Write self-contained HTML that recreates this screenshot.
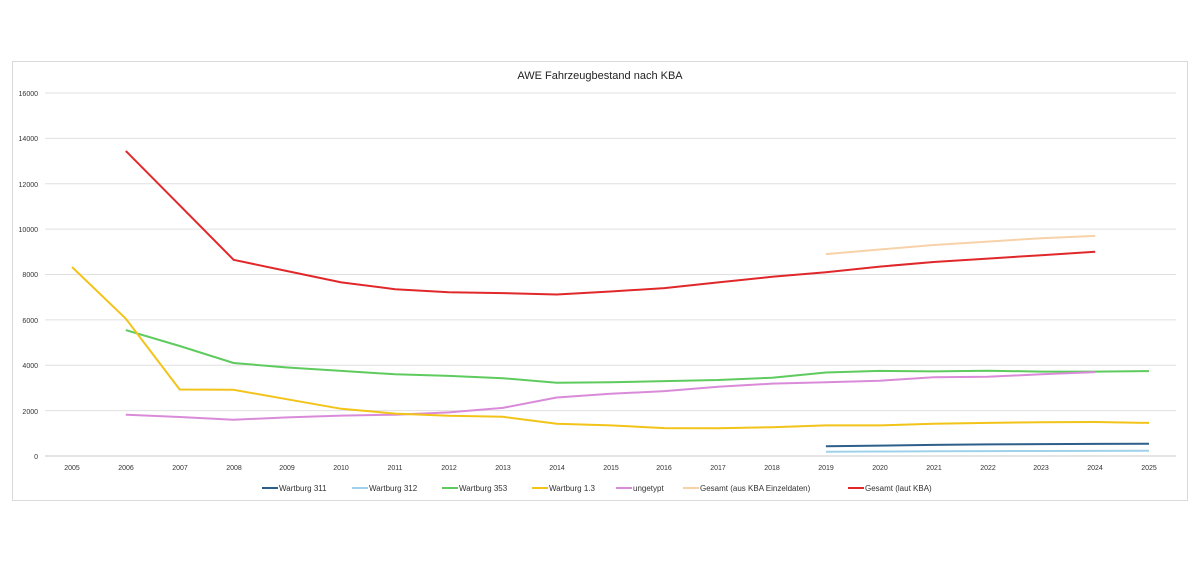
<!DOCTYPE html>
<html><head><meta charset="utf-8"><style>
body{margin:0;background:#fff;width:1200px;height:564px;overflow:hidden;font-family:"Liberation Sans",sans-serif}
</style></head><body>
<svg id="s" width="1200" height="564" xmlns="http://www.w3.org/2000/svg" font-family="Liberation Sans, sans-serif">
<rect x="12.5" y="61.5" width="1175" height="439" fill="#fff" stroke="#d9d9d9"/>
<text x="600" y="79" font-size="11" text-anchor="middle" fill="#222">AWE Fahrzeugbestand nach KBA</text>
<g id="grid" stroke="#e0e0e0" stroke-width="1"></g>
<g font-size="7" fill="#333" text-anchor="end">
<text x="38" y="96">16000</text><text x="38" y="141">14000</text><text x="38" y="187">12000</text><text x="38" y="232">10000</text><text x="38" y="277">8000</text><text x="38" y="323">6000</text><text x="38" y="368">4000</text><text x="38" y="414">2000</text><text x="38" y="459">0</text>
</g>
<g font-size="7" fill="#333" text-anchor="middle">
<text x="72" y="470">2005</text><text x="126" y="470">2006</text><text x="180" y="470">2007</text><text x="234" y="470">2008</text><text x="287" y="470">2009</text><text x="341" y="470">2010</text><text x="395" y="470">2011</text><text x="449" y="470">2012</text><text x="503" y="470">2013</text><text x="557" y="470">2014</text><text x="611" y="470">2015</text><text x="664" y="470">2016</text><text x="718" y="470">2017</text><text x="772" y="470">2018</text><text x="826" y="470">2019</text><text x="880" y="470">2020</text><text x="934" y="470">2021</text><text x="988" y="470">2022</text><text x="1041" y="470">2023</text><text x="1095" y="470">2024</text><text x="1149" y="470">2025</text>
</g>
<g id="lines" fill="none" stroke-width="2" stroke-linejoin="round"></g>
<g font-size="8" fill="#333" stroke-width="2">
<line x1="262" y1="488" x2="278" y2="488" stroke="#2e5f8a"/><text x="279" y="491">Wartburg 311</text>
<line x1="352" y1="488" x2="368" y2="488" stroke="#9fd2ea"/><text x="369" y="491">Wartburg 312</text>
<line x1="442" y1="488" x2="458" y2="488" stroke="#5ecb5e"/><text x="459" y="491">Wartburg 353</text>
<line x1="532" y1="488" x2="548" y2="488" stroke="#f2c318"/><text x="549" y="491">Wartburg 1.3</text>
<line x1="616" y1="488" x2="632" y2="488" stroke="#d98bd9"/><text x="633" y="491">ungetypt</text>
<line x1="683" y1="488" x2="699" y2="488" stroke="#f7d2a8"/><text x="700" y="491">Gesamt (aus KBA Einzeldaten)</text>
<line x1="848" y1="488" x2="864" y2="488" stroke="#e0282a"/><text x="865" y="491">Gesamt (laut KBA)</text>
</g>
</svg>
<script>
var NS="http://www.w3.org/2000/svg";
var g=document.getElementById('grid');
for(var v=0;v<=16000;v+=2000){var y=456-v*0.0226875;var l=document.createElementNS(NS,'line');l.setAttribute('x1',45);l.setAttribute('x2',1176);l.setAttribute('y1',y);l.setAttribute('y2',y);if(v==0)l.setAttribute('stroke','#c8c8c8');g.appendChild(l);}
function X(i){return 72+i*53.85}function Y(v){return 456-v*0.0226875}
var S=[
["#f7d2a8",14,[8900,9100,9300,9450,9600,9700]],
["#e0282a",1,[13450,11050,8650,8150,7650,7350,7220,7180,7120,7250,7400,7650,7900,8100,8350,8550,8700,8850,9000]],
["#5ecb5e",1,[5550,4850,4100,3900,3750,3600,3530,3430,3230,3250,3300,3350,3450,3680,3750,3730,3760,3720,3720,3740]],
["#d98bd9",1,[1820,1720,1600,1700,1780,1820,1920,2120,2580,2740,2860,3050,3190,3250,3320,3470,3490,3600,3700]],
["#f2c318",0,[8330,6050,2930,2920,2500,2080,1870,1770,1730,1420,1350,1230,1220,1270,1350,1350,1420,1460,1490,1500,1460]],
["#9fd2ea",14,[190,200,210,215,220,225,230]],
["#2e5f8a",14,[430,460,490,510,525,535,540]]
];
var L=document.getElementById('lines');
S.forEach(function(s){var p=s[2].map(function(v,k){return X(s[1]+k).toFixed(1)+","+Y(v).toFixed(1)}).join(" ");var e=document.createElementNS(NS,'polyline');e.setAttribute('points',p);e.setAttribute('stroke',s[0]);L.appendChild(e);});
</script>
</body></html>
